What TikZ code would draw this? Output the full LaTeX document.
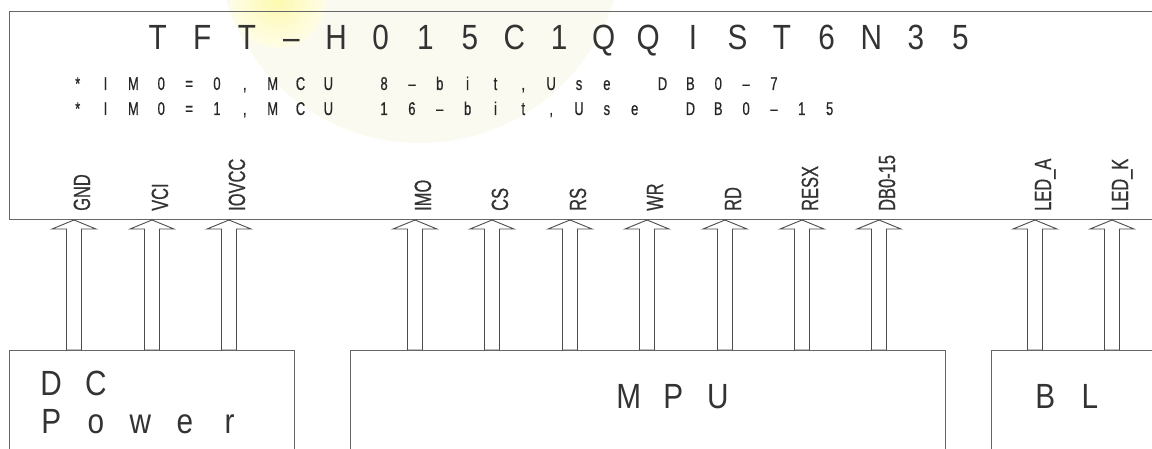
\documentclass[tikz,border=0pt]{standalone}
\usepackage{fontspec}
\usepackage{tikz}
\usetikzlibrary{calc}
\newfontfamily\bigfont[FakeStretch=0.85]{Liberation Sans}
\newfontfamily\smallfont[FakeStretch=0.7,FakeBold=0.6]{Liberation Sans}
\definecolor{pale}{RGB}{250,250,241}
\definecolor{sunny}{RGB}{253,249,175}
% every character in a cell of fixed width, ~ gives an empty cell
\makeatletter
\newcommand\spacedtext[2]{\@tfor\ch:=#2\do{\makebox[#1][c]{\ch}}}
\makeatother

\begin{document}
\begin{tikzpicture}[x=1pt,y=1pt,
		box/.style={draw=black!60,line width=1pt,inner sep=0},
		pin/.style={draw=black!70,line width=0.9pt,fill=white},
		pinlabel/.style={rotate=90,anchor=base west,inner sep=0,text=black!80,font=\smallfont\fontsize{23.5}{24}\selectfont},
		big/.style={anchor=base west,inner sep=0,text=black!80,font=\bigfont\fontsize{35}{36}\selectfont},
		note/.style={anchor=base west,inner sep=0,text=black!85,font=\smallfont\fontsize{18.5}{18}\selectfont}]
	\useasboundingbox (0,0) rectangle (1152,448);
	% faint watermark
	\fill[pale] (420,508) circle (203);
	\shade[inner color=sunny,outer color=sunny!30] (278,448) circle (48);
	% boxes
	\node[box,anchor=north west,minimum width=1200pt,minimum height=208pt] (tft) at (9,437) {};
	\node[box,anchor=north west,minimum width=285pt,minimum height=120pt] (dc) at (9,98) {};
	\node[box,anchor=north west,minimum width=595pt,minimum height=120pt] (mpu) at (350,98) {};
	\node[box,anchor=north west,minimum width=200pt,minimum height=120pt] (bl) at (991,98) {};
	% texts
	\node[big] (title) at (135.2,398) {\spacedtext{44.6pt}{TFT–H015C1QQIST6N35}};
	\node[note] (im0) at (63.6,358) {\spacedtext{27.85pt}{*IM0=0,MCU~8–bit,Use~DB0–7}};
	\node[note] (im1) at (63.6,333) {\spacedtext{27.85pt}{*IM0=1,MCU~16–bit,Use~DB0–15}};
	\node[big] (dctxt) at (28.7,53) {\spacedtext{44.6pt}{DC}};
	\node[big] (pwtxt) at (28.7,15) {\spacedtext{44.6pt}{Power}};
	\node[big] (mputxt) at (606.2,40) {\spacedtext{44.6pt}{MPU}};
	\node[big] (bltxt) at (1022.7,40) {\spacedtext{44.6pt}{BL}};
	% pins
	\foreach \name/\x/\src [count=\i] in {GND/74/dc,VCI/152/dc,IOVCC/229/dc,
			IMO/415/mpu,CS/492/mpu,RS/570/mpu,WR/647/mpu,RD/725/mpu,RESX/802/mpu,DB0-15/879/mpu,
			LED\_A/1035/bl,LED\_K/1112/bl}{
		\coordinate (p\i) at (\x,0 |- tft.south);
		\draw[pin] (p\i) -- ++(22,-9) -- ++(-14.5,0) -- ($(p\i |- \src.north)+(7.5,0)$)
			-- ++(-15,0) -- ($(p\i)+(-7.5,-9)$) -- ++(-14.5,0) -- cycle;
		\node[pinlabel] (l\i) at ($(p\i)+(16,9)$) {\name};
	}
\end{tikzpicture}
\end{document}
